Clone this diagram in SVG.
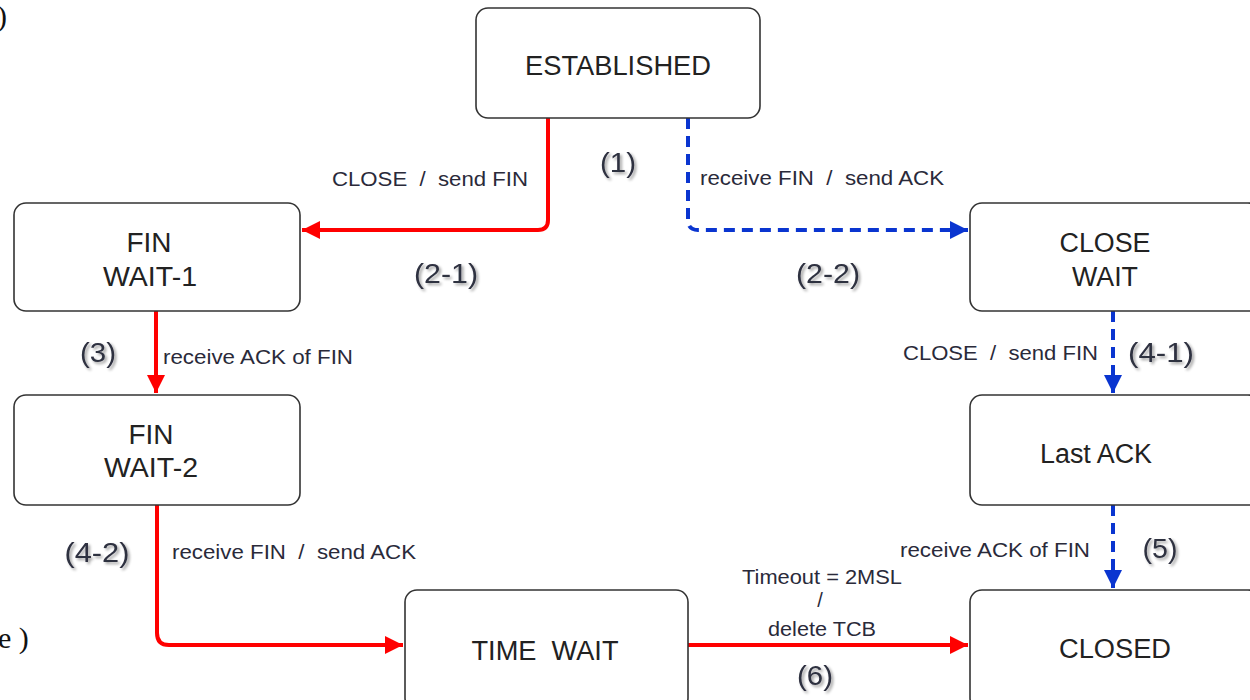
<svg xmlns="http://www.w3.org/2000/svg" width="1250" height="700" viewBox="0 0 1250 700">
<defs>
<style>
.box{fill:#fff;stroke:#333;stroke-width:1.6}
.st{font-family:"Liberation Sans",Arial,sans-serif;font-size:27px;fill:#222;text-anchor:middle}
.lb{font-family:"Liberation Sans",Arial,sans-serif;font-size:20px;fill:#2a2a3a}
.num{font-family:"Liberation Sans",Arial,sans-serif;font-size:27px;fill:#2e3040;text-anchor:middle;filter:url(#sh)}
.red{fill:none;stroke:#ff0000;stroke-width:4}
.blue{fill:none;stroke:#0a35d0;stroke-width:4;stroke-dasharray:11 7}
.srf{font-family:"Liberation Serif",serif;font-size:30px;fill:#111}
</style>
<filter id="sh" x="-30%" y="-30%" width="160%" height="160%">
<feGaussianBlur in="SourceAlpha" stdDeviation="1.5"/>
<feOffset dx="2" dy="2" result="b"/>
<feComponentTransfer><feFuncA type="linear" slope="0.4"/></feComponentTransfer>
<feMerge><feMergeNode/><feMergeNode in="SourceGraphic"/></feMerge>
</filter>
<marker id="ar" viewBox="0 0 10 10" refX="10" refY="5" markerWidth="5" markerHeight="4.5" orient="auto" markerUnits="strokeWidth"><path d="M0,0 L10,5 L0,10 z" fill="#ff0000"/></marker>
<marker id="ab" viewBox="0 0 10 10" refX="10" refY="5" markerWidth="4.5" markerHeight="4.5" orient="auto" markerUnits="strokeWidth"><path d="M0,0 L10,5 L0,10 z" fill="#0a35d0"/></marker>
</defs>
<rect width="1250" height="700" fill="#fff"/>
<text class="srf" x="-3" y="26">)</text>
<text class="srf" x="-2" y="648">e )</text>
<g id="connectors">
<path class="red" d="M548,118 V220 Q548,230 538,230 H302" marker-end="url(#ar)"/>
<path class="blue" d="M688,118 V220 Q688,230 698,230 H968" marker-end="url(#ab)"/>
<path class="red" d="M156,311 V393" marker-end="url(#ar)"/>
<path class="blue" d="M1113,311 V393" marker-end="url(#ab)"/>
<path class="red" d="M157,505 V633 Q157,645 169,645 H403" marker-end="url(#ar)"/>
<path class="red" d="M688,645 H968" marker-end="url(#ar)"/>
<path class="blue" d="M1113,505 V588" marker-end="url(#ab)"/>
</g>
<g id="established"><rect class="box" x="476" y="8" width="284" height="110" rx="12"/><text class="st" x="618" y="75" textLength="186" lengthAdjust="spacingAndGlyphs">ESTABLISHED</text></g>
<g id="finwait1"><rect class="box" x="14" y="203" width="286" height="108" rx="12"/><text class="st" x="149" y="252" textLength="45" lengthAdjust="spacingAndGlyphs">FIN</text><text class="st" x="150" y="286" textLength="94" lengthAdjust="spacingAndGlyphs">WAIT-1</text></g>
<g id="closewait"><rect class="box" x="970" y="203" width="290" height="108" rx="12"/><text class="st" x="1105" y="252" textLength="91" lengthAdjust="spacingAndGlyphs">CLOSE</text><text class="st" x="1105" y="286" textLength="66" lengthAdjust="spacingAndGlyphs">WAIT</text></g>
<g id="finwait2"><rect class="box" x="14" y="395" width="286" height="110" rx="12"/><text class="st" x="151" y="444" textLength="45" lengthAdjust="spacingAndGlyphs">FIN</text><text class="st" x="151" y="477" textLength="94" lengthAdjust="spacingAndGlyphs">WAIT-2</text></g>
<g id="lastack"><rect class="box" x="970" y="395" width="290" height="110" rx="12"/><text class="st" x="1096" y="463" textLength="112" lengthAdjust="spacingAndGlyphs">Last ACK</text></g>
<g id="timewait"><rect class="box" x="405" y="590" width="283" height="120" rx="12"/><text class="st" x="545" y="660" textLength="147" lengthAdjust="spacingAndGlyphs" xml:space="preserve">TIME  WAIT</text></g>
<g id="closed"><rect class="box" x="970" y="590" width="290" height="120" rx="12"/><text class="st" x="1115" y="658" textLength="112" lengthAdjust="spacingAndGlyphs">CLOSED</text></g>
<g id="labels">
<text class="lb" x="332" y="186" textLength="196" lengthAdjust="spacingAndGlyphs" xml:space="preserve">CLOSE  /  send FIN</text>
<text class="num" x="618" y="172" textLength="36" lengthAdjust="spacingAndGlyphs">(1)</text>
<text class="lb" x="700" y="185" textLength="244" lengthAdjust="spacingAndGlyphs" xml:space="preserve">receive FIN  /  send ACK</text>
<text class="num" x="446" y="283" textLength="64" lengthAdjust="spacingAndGlyphs">(2-1)</text>
<text class="num" x="828" y="283" textLength="64" lengthAdjust="spacingAndGlyphs">(2-2)</text>
<text class="num" x="98" y="362" textLength="36" lengthAdjust="spacingAndGlyphs">(3)</text>
<text class="lb" x="163" y="364" textLength="190" lengthAdjust="spacingAndGlyphs">receive ACK of FIN</text>
<text class="lb" x="903" y="360" textLength="195" lengthAdjust="spacingAndGlyphs" xml:space="preserve">CLOSE  /  send FIN</text>
<text class="num" x="1161" y="362" textLength="66" lengthAdjust="spacingAndGlyphs">(4-1)</text>
<text class="num" x="97" y="562" textLength="65" lengthAdjust="spacingAndGlyphs">(4-2)</text>
<text class="lb" x="172" y="559" textLength="244" lengthAdjust="spacingAndGlyphs" xml:space="preserve">receive FIN  /  send ACK</text>
<text class="lb" x="900" y="557" textLength="190" lengthAdjust="spacingAndGlyphs">receive ACK of FIN</text>
<text class="num" x="1160" y="558" textLength="35" lengthAdjust="spacingAndGlyphs">(5)</text>
<text class="lb" x="822" y="584" text-anchor="middle" textLength="160" lengthAdjust="spacingAndGlyphs">Timeout = 2MSL</text>
<text class="lb" x="820" y="607" text-anchor="middle">/</text>
<text class="lb" x="822" y="636" text-anchor="middle" textLength="108" lengthAdjust="spacingAndGlyphs">delete TCB</text>
<text class="num" x="815" y="685" textLength="36" lengthAdjust="spacingAndGlyphs">(6)</text>
</g>
</svg>
